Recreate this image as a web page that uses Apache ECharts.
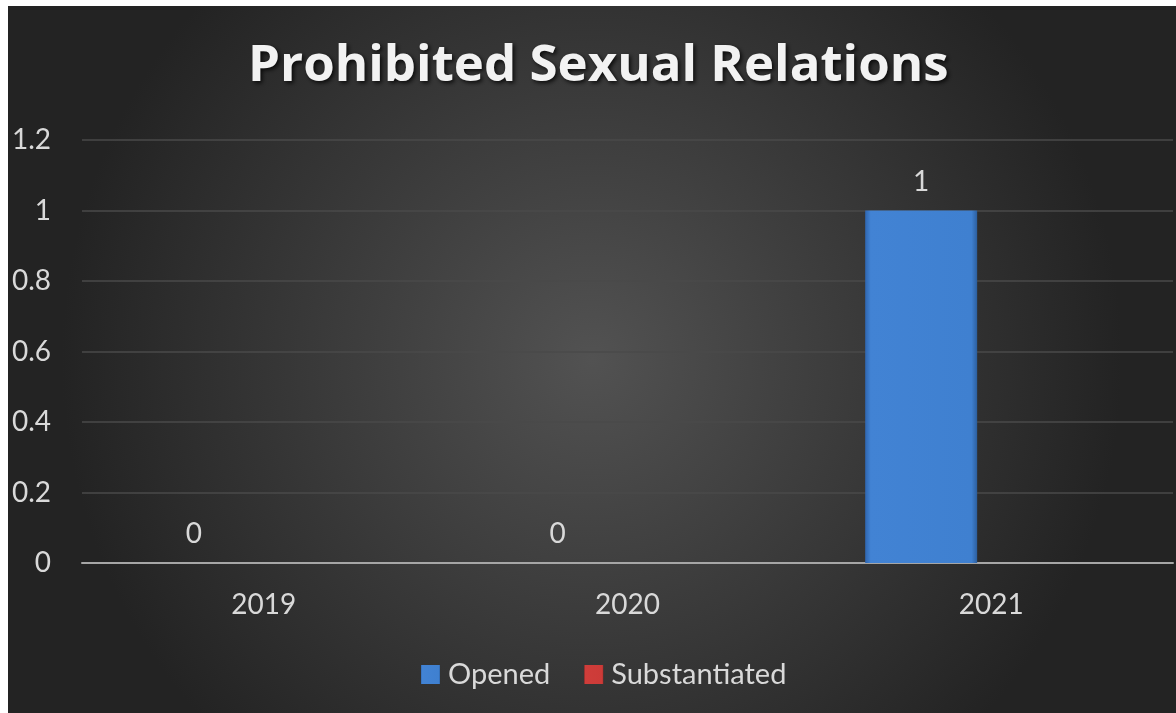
<!DOCTYPE html>
<html><head><meta charset="utf-8">
<script src="https://cdn.jsdelivr.net/npm/echarts@6/dist/echarts.min.js"></script>
<style>html,body{margin:0;padding:0;background:#fff}#c{width:1176px;height:713px}</style>
</head><body><div id="c"></div>
<script>
const categories = ['2019', '2020', '2021'];
const opened = [0, 0, 1];
const substantiated = [0, 0, 0];
const yTicks = [0, 0.2, 0.4, 0.6, 0.8, 1, 1.2];
const titleText = 'Prohibited Sexual Relations';

const chart = echarts.init(document.getElementById('c'));
const FONT = 'Lato';
const FS = 28;
const blueGrad = new echarts.graphic.LinearGradient(0, 0, 1, 0, [
  {offset: 0, color: '#2f66b0'}, {offset: 0.05, color: '#4283d4'},
  {offset: 0.95, color: '#3f80d0'}, {offset: 1, color: '#2c5f9f'}]);
const redGrad = new echarts.graphic.LinearGradient(0, 0, 1, 0, [
  {offset: 0, color: '#a42c2a'}, {offset: 0.05, color: '#cf3d3a'},
  {offset: 0.95, color: '#cc3b38'}, {offset: 1, color: '#9c2826'}]);
chart.setOption({
  backgroundColor: '#ffffff',
  animation: false,
  graphic: [{
    type: 'rect', left: 8, top: 6, z: -10, silent: true,
    shape: {width: 1168, height: 707},
    style: {fill: new echarts.graphic.RadialGradient(0.5, 0.5, 0.75, [
      {offset: 0, color: '#525252'}, {offset: 1, color: '#232323'}])}
  }],
  title: {
    text: titleText, left: 243, top: 36,
    textStyle: {color: '#f2f2f2', fontFamily: 'Open Sans', fontWeight: 'bold', fontSize: 51,
      textShadowColor: 'rgba(0,0,0,0.8)', textShadowBlur: 4, textShadowOffsetX: 2, textShadowOffsetY: 2}
  },
  legend: {
    top: 655, left: 416, itemWidth: 19, itemHeight: 19, itemGap: 34,
    textStyle: {color: '#d9d9d9', fontFamily: FONT, fontSize: 29, padding: [0, 0, 0, 3]},
    data: [{name: 'Opened', icon: 'rect'}, {name: 'Substantiated', icon: 'rect'}]
  },
  grid: {left: 82, right: 3, top: 140, bottom: 150, containLabel: false},
  xAxis: {
    type: 'category', data: categories,
    axisLine: {lineStyle: {color: '#a6a6a6', width: 2}},
    axisTick: {show: false},
    axisLabel: {color: '#d9d9d9', fontFamily: FONT, fontSize: FS, margin: 28}
  },
  yAxis: {
    type: 'value', min: yTicks[0], max: yTicks[yTicks.length - 1], interval: 0.2,
    axisLine: {show: false}, axisTick: {show: false},
    splitLine: {lineStyle: {color: '#4a4a4a', width: 1.5}},
    axisLabel: {color: '#d9d9d9', fontFamily: FONT, fontSize: FS, margin: 31}
  },
  series: [{
    name: 'Opened', type: 'bar', data: opened, barWidth: 112, barGap: '25%',
    itemStyle: {color: blueGrad},
    label: {show: true, position: 'top', distance: 15, color: '#d9d9d9', fontFamily: FONT, fontSize: FS}
  }, {
    name: 'Substantiated', type: 'bar', data: substantiated, barWidth: 112,
    itemStyle: {color: redGrad},
    label: {show: false}
  }]
});
</script></body></html>
